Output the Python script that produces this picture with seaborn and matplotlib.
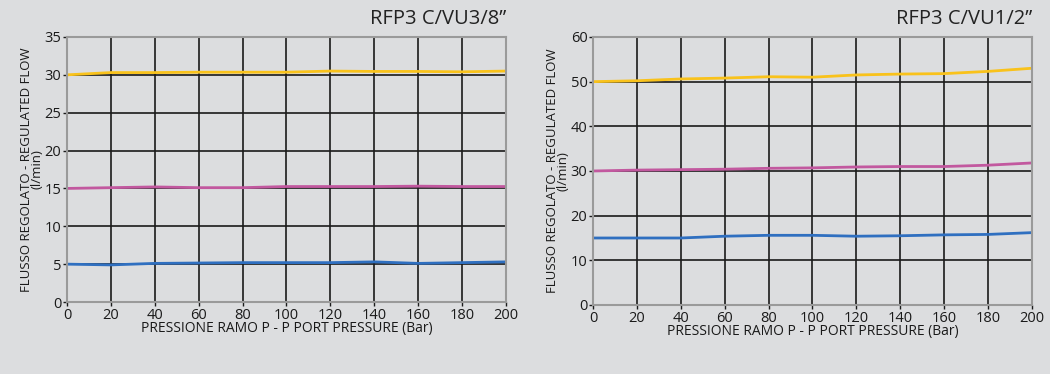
import pandas as pd
import matplotlib.pyplot as plt
import seaborn as sns

# pressure points (bar)
pressure = [0, 20, 40, 60, 80, 100, 120, 140, 160, 180, 200]

# RFP3 C/VU3/8"
left_yellow = [30.0, 30.3, 30.3, 30.35, 30.35, 30.35, 30.5, 30.45, 30.45, 30.4, 30.5]
left_pink = [15.0, 15.1, 15.2, 15.1, 15.1, 15.25, 15.25, 15.25, 15.3, 15.25, 15.25]
left_blue = [5.0, 4.9, 5.1, 5.15, 5.2, 5.2, 5.2, 5.3, 5.1, 5.2, 5.3]

# RFP3 C/VU1/2"
right_yellow = [50.0, 50.2, 50.6, 50.8, 51.1, 51.0, 51.5, 51.7, 51.8, 52.3, 53.0]
right_pink = [30.0, 30.2, 30.3, 30.4, 30.6, 30.7, 30.9, 31.0, 31.0, 31.3, 31.8]
right_blue = [15.0, 15.0, 15.0, 15.4, 15.6, 15.6, 15.4, 15.5, 15.7, 15.8, 16.2]

titles = ['RFP3 C/VU3/8\u201d', 'RFP3 C/VU1/2\u201d']
y_limits = [35, 60]
y_steps = [5, 10]

palette = {'high': '#f9c21b', 'mid': '#c2589f', 'low': '#2f6fc0'}
bg = '#dcdddf'


def make_df(yellow, pink, blue):
    rows = []
    for name, vals in [('high', yellow), ('mid', pink), ('low', blue)]:
        for p, v in zip(pressure, vals):
            rows.append({'pressure': p, 'flow': v, 'series': name})
    return pd.DataFrame(rows)


sns.set_style('white')
plt.rcParams['font.family'] = ['Open Sans', 'DejaVu Sans']

fig = plt.figure(figsize=(10.5, 3.74), dpi=100, facecolor=bg)
positions = [[0.0638, 0.1925, 0.418, 0.7086], [0.5648, 0.1845, 0.418, 0.7166]]
dfs = [make_df(left_yellow, left_pink, left_blue),
       make_df(right_yellow, right_pink, right_blue)]

for i in range(2):
    ax = fig.add_axes(positions[i])
    ax.set_facecolor(bg)
    sns.lineplot(data=dfs[i], x='pressure', y='flow', hue='series',
                 palette=palette, linewidth=2, legend=False, ax=ax)
    ax.set_xlim(0, 200)
    ax.set_ylim(0, y_limits[i])
    ax.set_xticks(range(0, 201, 20))
    ax.set_yticks(range(0, y_limits[i] + 1, y_steps[i]))
    ax.grid(True, color='#1a1a1a', linewidth=1.2)
    ax.set_axisbelow(True)
    for s in ax.spines.values():
        s.set_color('#9a9a9a')
        s.set_linewidth(1.5)
    ax.tick_params(axis='both', labelsize=10.5, colors='#1a1a1a', length=3,
                   width=1, pad=1, direction='out', left=True, bottom=True)
    ax.set_xlabel('PRESSIONE RAMO P - P PORT PRESSURE (Bar)', fontsize=10,
                  color='#1a1a1a', labelpad=-1)
    ax.set_ylabel('FLUSSO REGOLATO - REGULATED FLOW\n(l/min)', fontsize=9.5,
                  color='#1a1a1a', labelpad=1, linespacing=0.75)
    ax.set_title(titles[i], loc='right', fontsize=14.5, color='#222222',
                 pad=9, fontweight='medium')

fig.savefig('out.png', dpi=100, facecolor=bg)
